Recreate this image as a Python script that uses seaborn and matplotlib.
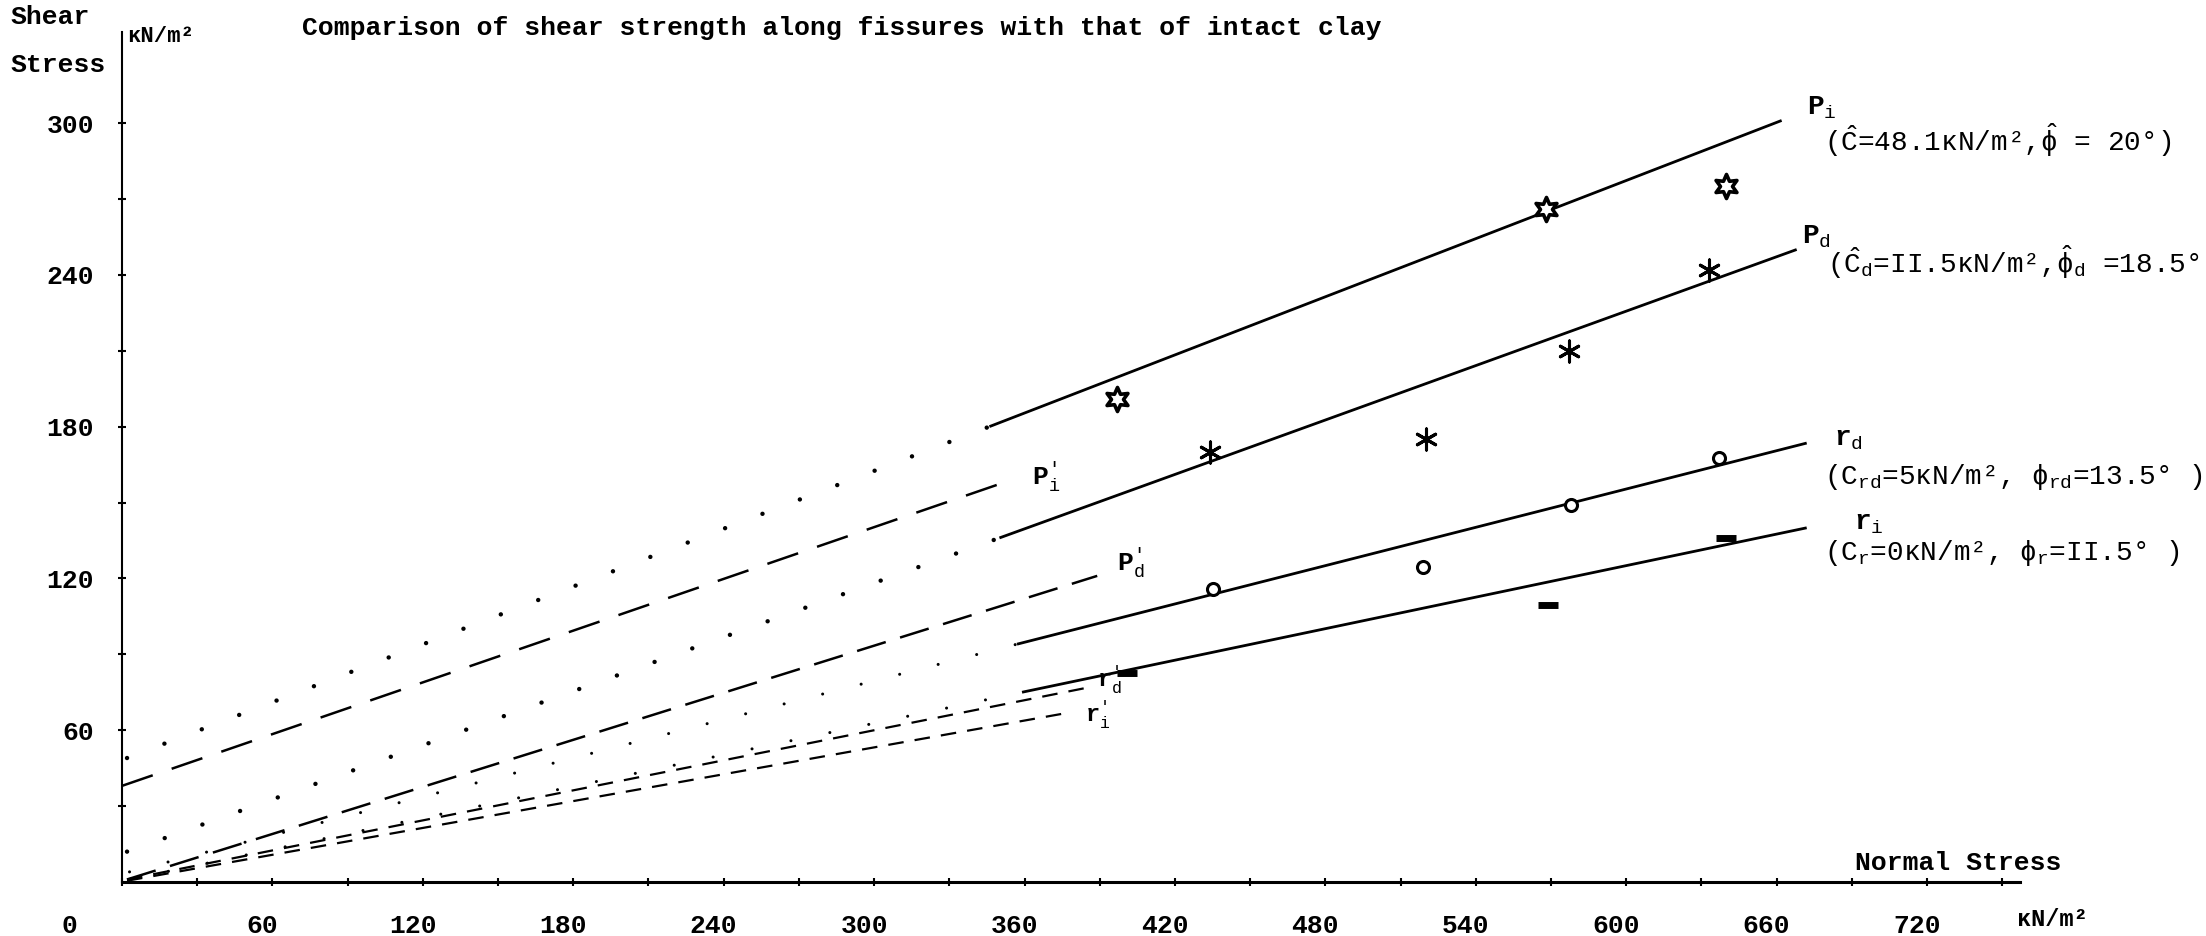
import matplotlib
matplotlib.use("Agg")
import matplotlib.pyplot as plt
import matplotlib.transforms as mtransforms
import pandas as pd
import seaborn as sns

# ---------------- data (kN/m^2) ----------------
title = "Comparison of shear strength along fissures with that of intact clay"
x_major = [0, 60, 120, 180, 240, 300, 360, 420, 480, 540, 600, 660, 720]
x_labels = ["0", "60", "120", "180", "240", "300", "360", "420", "480", "540", "600", "660", "720"]
x_minor = [30, 90, 150, 210, 270, 330, 390, 450, 510, 570, 630, 690, 750]
y_major = [60, 120, 180, 240, 300]
y_labels = ["60", "120", "180", "240", "300"]
y_minor = [30, 90, 150, 210, 270]

# measured test points
pi_x = [397, 568, 640]
pi_y = [191, 266, 275]
pd_x = [434, 520, 577, 633]
pd_y = [170, 175, 210, 242]
rd_x = [435, 519, 578, 637]
rd_y = [116, 124.5, 149, 167.5]
ri_x = [401, 569, 640]
ri_y = [82.5, 109.5, 136]

# fitted envelopes (solid)
pi_fit_x = [346, 662]
pi_fit_y = [180, 301]
pd_fit_x = [350, 668]
pd_fit_y = [136, 250]
rd_fit_x = [357, 672]
rd_fit_y = [94, 173.5]
ri_fit_x = [359, 672]
ri_fit_y = [75, 140]

# dotted extrapolations to the stress axis
pi_ext_x = [2, 346]
pi_ext_y = [49, 180]
pd_ext_x = [2, 350]
pd_ext_y = [12, 136]
rd_ext_x = [3, 357]
rd_ext_y = [4, 94]
ri_ext_x = [3, 359]
ri_ext_y = [1, 75]

# primed (dashed) envelopes
pip_x = [0, 355]
pip_y = [38, 159]
pdp_x = [2, 389]
pdp_y = [1, 121]
rdp_x = [2, 386]
rdp_y = [1, 77]
rip_x = [2, 378]
rip_y = [0.5, 67]

# ---------------- style ----------------
sns.set_theme(style="white")
plt.rcParams['font.family'] = ['Liberation Mono', 'DejaVu Sans Mono', 'DejaVu Sans']
plt.rcParams['mathtext.fontset'] = 'custom'
plt.rcParams['mathtext.rm'] = 'Liberation Mono'
plt.rcParams['mathtext.it'] = 'Liberation Mono'
plt.rcParams['mathtext.bf'] = 'Liberation Mono:bold'

W, H = 2206, 936
fig = plt.figure(figsize=(W / 100, H / 100), dpi=100)
fig.patch.set_facecolor("white")
ax = fig.add_axes([122 / W, 54 / H, 757 * 2.507 / W, 336 * 2.53 / H])
ax.set_facecolor("white")

K = "black"

def line(xs, ys, lw, ls, cap="butt"):
    sns.lineplot(x=xs, y=ys, ax=ax, color=K, lw=lw, linestyle=ls,
                 dash_capstyle=cap, solid_capstyle="butt", sort=False,
                 estimator=None, legend=False)

# solid envelopes
for xs, ys in [(pi_fit_x, pi_fit_y), (pd_fit_x, pd_fit_y),
               (rd_fit_x, rd_fit_y), (ri_fit_x, ri_fit_y)]:
    line(xs, ys, 2.0, "-")

# dotted extrapolations
for xs, ys in [(pi_ext_x, pi_ext_y), (pd_ext_x, pd_ext_y)]:
    line(xs, ys, 3.2, (0, (0.01, 9.0)), cap="round")
for xs, ys in [(rd_ext_x, rd_ext_y), (ri_ext_x, ri_ext_y)]:
    line(xs, ys, 2.2, (0, (0.01, 13)), cap="round")

# dashed primed envelopes
line(pip_x, pip_y, 1.8, (0, (13, 8)))
line(pdp_x, pdp_y, 1.8, (0, (12, 6)))
line(rdp_x, rdp_y, 1.6, (0, (7, 5)))
line(rip_x, rip_y, 1.6, (0, (7, 5)))

# data points
sns.scatterplot(x=pi_x, y=pi_y, ax=ax, marker=(6, 1, 0), s=300,
                facecolor="white", edgecolor=K, linewidth=2.6, zorder=5)
sns.scatterplot(x=pd_x, y=pd_y, ax=ax, marker=(6, 2, 0), s=230,
                color=K, edgecolor=K, linewidth=2.2, zorder=5)
sns.scatterplot(x=rd_x, y=rd_y, ax=ax, marker="o", s=75,
                facecolor="white", edgecolor=K, linewidth=2.2, zorder=5)
sns.scatterplot(x=ri_x, y=ri_y, ax=ax, marker="_", s=200,
                color=K, edgecolor=K, linewidth=5, zorder=5)

# ---------------- axes ----------------
ax.set_xlim(0, 757)
ax.set_ylim(0, 336)
sns.despine(ax=ax)
ax.spines["left"].set_color(K)
ax.spines["left"].set_linewidth(1.5)
ax.spines["bottom"].set_color(K)
ax.spines["bottom"].set_linewidth(2.2)
ax.grid(False)

ax.set_xticks(x_major)
ax.set_xticklabels(x_labels, fontsize=19, fontweight="bold")
ax.set_xticks(x_minor, minor=True)
ax.set_yticks(y_major)
ax.set_yticklabels(y_labels, fontsize=19, fontweight="bold")
ax.set_yticks(y_minor, minor=True)
ax.tick_params(axis="both", which="both", direction="inout", length=6,
               width=1.5, color=K, bottom=True, left=True, labelcolor=K)
ax.tick_params(axis="x", which="major", pad=20)
ax.tick_params(axis="y", which="major", pad=17)

# shift x tick labels a little to the left, as typed on the original
for i, lab in enumerate(ax.get_xticklabels()):
    dx = -0.53 if i == 0 else -0.10
    lab.set_transform(lab.get_transform() +
                      mtransforms.ScaledTranslation(dx, 0, fig.dpi_scale_trans))

ax.set_xlabel("")
ax.set_ylabel("")

# ---------------- texts ----------------
fig.text(302 / W, 1 - 28 / H, title, ha="left", va="center",
         fontsize=19, fontweight="bold", color=K)
fig.text(10 / W, 1 - 17 / H, "Shear", ha="left", va="center",
         fontsize=19, fontweight="bold", color=K)
fig.text(10 / W, 1 - 65 / H, "Stress", ha="left", va="center",
         fontsize=19, fontweight="bold", color=K)
fig.text(127 / W, 1 - 36 / H, "κN/m²", ha="left", va="center",
         fontsize=16, fontweight="bold", color=K)
fig.text(1958 / W, 1 - 863 / H, "Normal Stress", ha="center", va="center",
         fontsize=19, fontweight="bold", color=K)
fig.text(2017 / W, 1 - 920 / H, "κN/m²", ha="left", va="center",
         fontsize=17, fontweight="bold", color=K)

# curve names
ax.text(672, 306, r"$\mathbf{P}_{i}$", fontsize=20, ha="left", va="center", color=K)
ax.text(679, 293, r"($\hat{C}$=48.1κN/m²,$\hat{\phi}$ = 20°)", fontsize=20,
        ha="left", va="center", color=K)
ax.text(670, 255, r"$\mathbf{P}_{d}$", fontsize=20, ha="left", va="center", color=K)
ax.text(680, 245, r"($\hat{C}_{d}$=II.5κN/m²,$\hat{\phi}_{d}$ =18.5°)", fontsize=20,
        ha="left", va="center", color=K)
ax.text(683, 175, r"$\mathbf{r}_{d}$", fontsize=20, ha="left", va="center", color=K)
ax.text(679, 160, r"(C$_{rd}$=5κN/m², $\phi_{rd}$=13.5° )", fontsize=20,
        ha="left", va="center", color=K)
ax.text(691, 142, r"$\mathbf{r}_{i}$", fontsize=20, ha="left", va="center", color=K)
ax.text(679, 130, r"(C$_{r}$=0κN/m², $\phi_{r}$=II.5° )", fontsize=20,
        ha="left", va="center", color=K)

ax.text(363, 160, r"$\mathbf{P}_{i}^{\prime}$", fontsize=19, ha="left", va="center", color=K)
ax.text(397, 126, r"$\mathbf{P}_{d}^{\prime}$", fontsize=19, ha="left", va="center", color=K)
ax.text(389, 80, r"$\mathbf{r}_{d}^{\prime}$", fontsize=17, ha="left", va="center", color=K)
ax.text(384, 66, r"$\mathbf{r}_{i}^{\prime}$", fontsize=17, ha="left", va="center", color=K)

fig.savefig("out.png", dpi=100, facecolor="white")
